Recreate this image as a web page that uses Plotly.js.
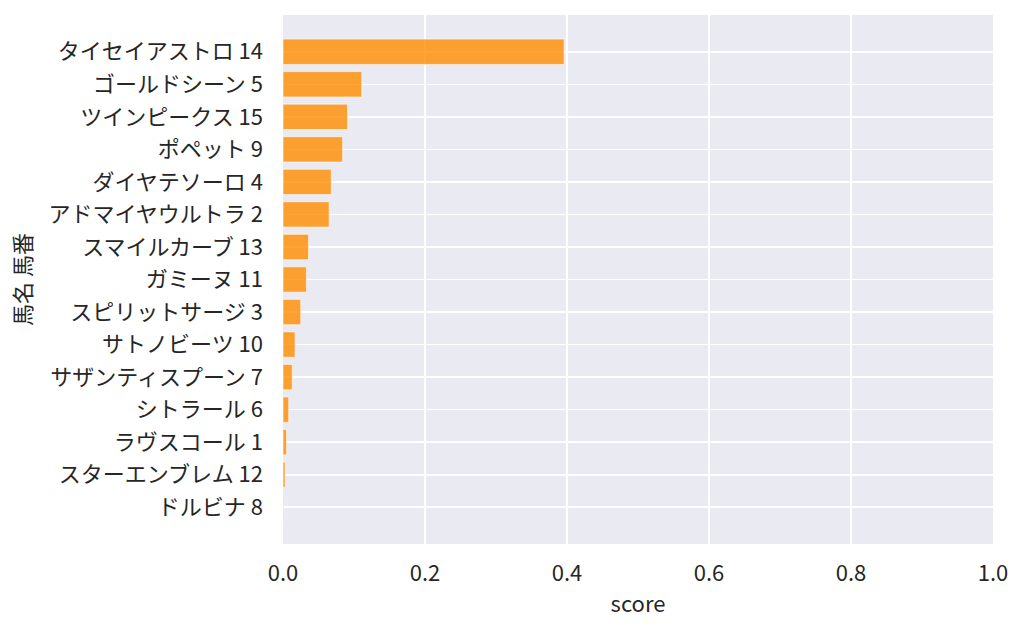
<!DOCTYPE html>
<html>
<head>
<meta charset="utf-8">
<script src="https://cdn.plot.ly/plotly-3.0.1.min.js"></script>
<style>html,body{margin:0;padding:0;background:#fff;}#chart{width:1024px;height:634px;}</style>
</head>
<body>
<div id="chart"></div>
<script>
const horseNames = ["タイセイアストロ","ゴールドシーン","ツインピークス","ポペット","ダイヤテソーロ","アドマイヤウルトラ","スマイルカーブ","ガミーヌ","スピリットサージ","サトノビーツ","サザンティスプーン","シトラール","ラヴスコール","スターエンブレム","ドルビナ"];
const horseNumbers = [14,5,15,9,4,2,13,11,3,10,7,6,1,12,8];
const scores = [0.396,0.111,0.091,0.084,0.068,0.065,0.036,0.033,0.025,0.017,0.013,0.008,0.005,0.003,0.001];
const xTicks = [0,0.2,0.4,0.6,0.8,1.0];
const xTickLabels = ["0.0","0.2","0.4","0.6","0.8","1.0"];

const labels = horseNames.map((n,i)=> n + " " + horseNumbers[i]);
const idx = labels.map((_,i)=>i);
const FONT = "'Noto Sans CJK JP', 'Noto Sans', sans-serif";
const TXT = "#262626";

Plotly.newPlot("chart", [{
  type: "bar",
  orientation: "h",
  x: scores,
  y: idx,
  width: 0.78,
  marker: {color: "rgba(255,140,0,0.8)", line: {color: "rgba(255,255,255,0.6)", width: 1}},
  hoverinfo: "skip"
}], {
  width: 1024, height: 634,
  margin: {l: 283, r: 31, t: 15, b: 90, pad: 0},
  paper_bgcolor: "#ffffff",
  plot_bgcolor: "#EAEAF2",
  font: {family: FONT, color: TXT, size: 22},
  showlegend: false,
  xaxis: {
    range: [0, 1], tickvals: xTicks, ticktext: xTickLabels,
    showgrid: true, gridcolor: "#ffffff", gridwidth: 1.6,
    zeroline: false, showline: false, ticks: "",
    ticklabelstandoff: 14,
    tickfont: {family: FONT, size: 22, color: TXT},
    title: {text: "score", font: {family: FONT, size: 22, color: TXT}, standoff: 10}
  },
  yaxis: {
    range: [15.13, -1.13], tickvals: idx, ticktext: labels,
    showgrid: true, gridcolor: "#ffffff", gridwidth: 1.6,
    zeroline: false, showline: false, ticks: "",
    ticklabelstandoff: 19,
    tickfont: {family: FONT, size: 22, color: TXT},
    title: {text: "馬名 馬番", font: {family: FONT, size: 22, color: TXT}, standoff: 10}
  }
}, {displayModeBar: false, staticPlot: true});
</script>
</body>
</html>
